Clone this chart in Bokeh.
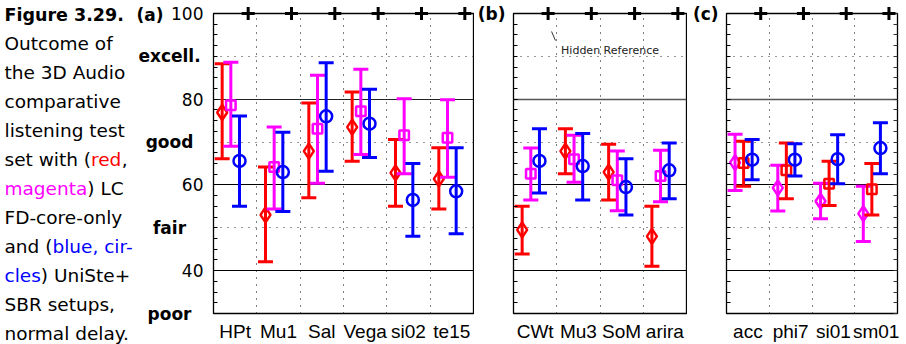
import numpy as np
from bokeh.plotting import figure
from bokeh.layouts import row
from bokeh.models import Range1d, LinearAxis, FixedTicker, Grid, ColumnDataSource
from bokeh.core.properties import value
from bokeh.embed import file_html
from bokeh.resources import INLINE

# ---------------- data ----------------
y_tick_vals = [100, 80, 60, 40]
y_tick_labels = ["100", "80", "60", "40"]
quality_vals = [90, 70, 50, 30]
quality_labels = ["excell.", "good", "fair", "poor"]

cats_a = ["HPt", "Mu1", "Sal", "Vega", "si02", "te15"]
a_red_mean = [76.9, 53.0, 67.9, 73.5, 62.8, 61.4]
a_red_low = [66.1, 42.1, 57.0, 65.5, 55.0, 54.4]
a_red_high = [88.3, 64.2, 79.1, 81.7, 70.6, 68.7]
a_mag_mean = [78.6, 64.2, 73.1, 77.2, 71.6, 71.0]
a_mag_low = [69.0, 54.4, 60.4, 67.1, 62.6, 61.8]
a_mag_high = [88.6, 73.5, 85.6, 87.0, 80.1, 79.9]
a_blue_mean = [65.6, 63.0, 76.0, 74.3, 56.5, 58.5]
a_blue_low = [55.0, 53.8, 63.2, 66.4, 48.0, 48.6]
a_blue_high = [76.1, 72.3, 88.5, 82.3, 65.0, 68.7]
a_hidden_ref = [100, 100, 100, 100, 100, 100]

cats_b = ["CWt", "Mu3", "SoM", "arira"]
b_red_mean = [49.5, 67.9, 63.0, 48.0]
b_red_low = [43.9, 62.6, 56.5, 41.0]
b_red_high = [55.0, 73.1, 69.5, 55.0]
b_mag_mean = [62.6, 66.0, 61.1, 62.1]
b_mag_low = [56.5, 60.6, 54.0, 56.1]
b_mag_high = [68.6, 71.6, 67.9, 68.1]
b_blue_mean = [65.6, 64.4, 59.5, 63.4]
b_blue_low = [58.1, 56.5, 53.0, 56.8]
b_blue_high = [73.1, 72.0, 66.1, 69.8]
b_hidden_ref = [100, 100, 100, 100]

cats_c = ["acc", "phi7", "si01", "sm01"]
c_mag_mean = [65.2, 59.3, 56.2, 53.3]
c_mag_low = [58.7, 53.9, 52.1, 46.8]
c_mag_high = [71.8, 64.6, 60.4, 59.7]
c_red_mean = [65.1, 63.4, 60.3, 59.0]
c_red_low = [59.7, 56.8, 55.2, 53.0]
c_red_high = [70.2, 69.8, 65.5, 65.0]
c_blue_mean = [65.9, 65.9, 66.0, 68.6]
c_blue_low = [61.2, 62.1, 60.3, 62.6]
c_blue_high = [70.6, 69.6, 71.7, 74.5]
c_hidden_ref = [100, 100, 100, 100]

hidden_ref_note = "Hidden Reference"

# ---------------- styles / layout ----------------
FONT = "DejaVu Sans"
XFONT = "Liberation Sans"
RED, MAG, BLUE = "#ff0000", "#ff00ff", "#0000ff"
H = 344
B_TOP, B_BOT = 13, 31
YMIN, YMAX = 30, 100
OFFS = [-0.3, -0.1, 0.1]
REF_OFF = 0.3
MINOR = [float(v) for v in np.arange(YMIN, YMAX + 0.1, 2.5)]


def make_panel(cats, series, hidden, width, left, right, tag=None, c80="black", w80=1,
               right_ticks=False):
    n = len(cats)
    p = figure(width=width, height=H, x_range=Range1d(-0.5, n - 0.5),
               y_range=Range1d(YMIN, YMAX), x_axis_type=None, y_axis_type=None,
               output_backend="svg", toolbar_location=None,
               min_border_left=left, min_border_right=right,
               min_border_top=B_TOP, min_border_bottom=B_BOT)
    p.outline_line_color = "black"
    p.outline_line_width = 1.3
    xa = LinearAxis(ticker=FixedTicker(ticks=list(range(n))),
                    major_label_overrides={i: c for i, c in enumerate(cats)},
                    axis_line_color=None, major_tick_in=0, major_tick_out=0,
                    minor_tick_in=0, minor_tick_out=0, major_label_standoff=7,
                    major_label_text_font=XFONT, major_label_text_font_size="19px",
                    major_label_text_color="black")
    p.add_layout(xa, "below")
    ya = LinearAxis(ticker=FixedTicker(ticks=[100] if tag else [], minor_ticks=MINOR),
                    axis_line_color=None, major_tick_in=0, major_tick_out=0,
                    minor_tick_in=4, minor_tick_out=0, minor_tick_line_color="black",
                    major_label_standoff=8 if tag else 0,
                    major_label_overrides={100: tag} if tag else {},
                    major_label_text_font=FONT, major_label_text_font_size="17px",
                    major_label_text_font_style="bold", major_label_text_color="black")
    p.add_layout(ya, "left")
    if right_ticks:
        yr = LinearAxis(ticker=FixedTicker(ticks=[], minor_ticks=MINOR),
                        axis_line_color=None, major_tick_in=0, major_tick_out=0,
                        minor_tick_in=4, minor_tick_out=0, minor_tick_line_color="#333333",
                        major_label_standoff=0)
        p.add_layout(yr, "right")
    p.add_layout(Grid(dimension=0, ticker=FixedTicker(ticks=[i + 0.5 for i in range(n - 1)]),
                      grid_line_color="black", grid_line_dash="1 6", grid_line_width=1))
    p.add_layout(Grid(dimension=1, ticker=FixedTicker(ticks=[40, 60], minor_ticks=[50, 70, 90]),
                      grid_line_color="black", grid_line_width=1,
                      minor_grid_line_color="#333333", minor_grid_line_dash="1 6"))
    p.add_layout(Grid(dimension=1, ticker=FixedTicker(ticks=[80]),
                      grid_line_color=c80, grid_line_width=w80))
    for (lo, mid, hi, color, marker, size), off in zip(series, OFFS):
        xs = [i + off for i in range(n)]
        src = ColumnDataSource(dict(x=xs, lo=lo, mid=mid, hi=hi))
        p.segment("x", "lo", "x", "hi", source=src, line_color=color, line_width=3)
        p.scatter("x", "lo", source=src, marker="dash", size=15, line_color=color, line_width=3)
        p.scatter("x", "hi", source=src, marker="dash", size=15, line_color=color, line_width=3)
        p.scatter("x", "mid", source=src, marker=marker, size=size, line_color=color,
                  line_width=2.5, fill_color=None)
    p.scatter([i + REF_OFF for i in range(n)], hidden, marker="cross", size=13,
              line_color="black", line_width=3, level="overlay")
    return p


CAP_W = 211
pa = make_panel(cats_a, [
    (a_red_low, a_red_mean, a_red_high, RED, "diamond", 15),
    (a_mag_low, a_mag_mean, a_mag_high, MAG, "square", 9.5),
    (a_blue_low, a_blue_mean, a_blue_high, BLUE, "circle", 12),
], a_hidden_ref, 263, 2, 1, c80="#222222", w80=1.2)

pb = make_panel(cats_b, [
    (b_red_low, b_red_mean, b_red_high, RED, "diamond", 15),
    (b_mag_low, b_mag_mean, b_mag_high, MAG, "square", 9.5),
    (b_blue_low, b_blue_mean, b_blue_high, BLUE, "circle", 12),
], b_hidden_ref, 213, 39, 1, tag="(b)", c80="#555555", w80=1.5)
# note pointing at the hidden reference
pb.segment([0.38], [95.8], [0.47], [93.7], line_color="#333333", line_width=1)
pb.text([0.6], [91.4], text=[hidden_ref_note], text_font=value(FONT), text_font_size="11px",
        text_color="#222222", text_baseline="middle", text_align="left")

pc = make_panel(cats_c, [
    (c_mag_low, c_mag_mean, c_mag_high, MAG, "diamond", 15),
    (c_red_low, c_red_mean, c_red_high, RED, "square", 9.5),
    (c_blue_low, c_blue_mean, c_blue_high, BLUE, "circle", 12),
], c_hidden_ref, 212, 39, 2, tag="(c)", c80="#555555", w80=1.5, right_ticks=True)

# ---------------- caption + value labels figure ----------------
k = (YMAX - YMIN) / (H - B_TOP - B_BOT)   # data units per pixel
cap = figure(width=CAP_W, height=H, x_range=Range1d(0, CAP_W), y_range=Range1d(YMIN, YMAX),
             x_axis_type=None, y_axis_type=None, output_backend="svg", toolbar_location=None,
             min_border_left=0, min_border_right=0, min_border_top=B_TOP,
             min_border_bottom=B_BOT)
cap.outline_line_color = None


def y_at(py):
    """data value at page pixel row py (for caption line placement)"""
    return YMAX - (py - B_TOP) * k


# numeric tick labels of panel (a) and the quality scale
cap.text([203] * len(y_tick_vals), y_tick_vals, text=y_tick_labels, text_font=value(FONT),
         text_font_size="17px", text_align="right", text_baseline="middle", text_color="black",
         level="overlay")
cap.text([169] * len(quality_vals), quality_vals, text=quality_labels, text_font=value(FONT),
         text_font_size="17px", text_font_style=value("bold"), text_align="center",
         text_baseline="middle", text_color="black", level="overlay")

# DejaVu Sans advance widths (em) to place coloured words side by side
W = {" ": .318, "(": .390, ")": .390, ",": .318, "-": .361, ".": .318, "+": .838,
     "a": .613, "b": .635, "c": .550, "d": .635, "e": .615, "f": .352, "g": .635,
     "h": .634, "i": .278, "l": .278, "m": .974, "n": .634, "o": .612, "p": .635,
     "r": .411, "s": .521, "t": .392, "u": .634, "w": .818, "y": .592, "L": .557, "C": .698}
CAP_FS = 18.5


def tw(s):
    return sum(W.get(ch, 0.62) for ch in s) * CAP_FS


caption = [
    [("Figure 3.29.", "black", True)],
    [("Outcome of", "black", False)],
    [("the 3D Audio", "black", False)],
    [("comparative", "black", False)],
    [("listening test", "black", False)],
    [("set with (", "black", False), ("red", RED, False), (",", "black", False)],
    [("magenta", MAG, False), (") LC", "black", False)],
    [("FD-core-only", "black", False)],
    [("and (", "black", False), ("blue, cir-", BLUE, False)],
    [("cles", BLUE, False), (") UniSte+", "black", False)],
    [("SBR setups,", "black", False)],
    [("normal delay.", "black", False)],
]
LINE0, LINE_STEP, CAP_X = 14, 29, 4
reg = dict(x=[], y=[], text=[], color=[])
bold = dict(x=[], y=[], text=[], color=[])
for i, segs in enumerate(caption):
    yv = y_at(LINE0 + i * LINE_STEP)
    x = CAP_X
    for txt, col, b in segs:
        d = bold if b else reg
        d["x"].append(x); d["y"].append(yv); d["text"].append(txt); d["color"].append(col)
        x += tw(txt)

cap.text("x", "y", text="text", text_color="color", source=ColumnDataSource(reg),
         text_font=value(FONT), text_font_size=f"{CAP_FS}px", text_baseline="middle",
         text_align="left", level="overlay")
cap.text("x", "y", text="text", text_color="color", source=ColumnDataSource(bold),
         text_font=value(FONT), text_font_size="17.5px", text_font_style=value("bold"),
         text_baseline="middle", text_align="left", level="overlay")
# panel tag (a) on the first caption line
cap.text([136], [y_at(LINE0)], text=["(a)"], text_font=value(FONT), text_font_size="17px",
         text_font_style=value("bold"), text_baseline="middle", text_align="left",
         text_color="black", level="overlay")

layout = row(cap, pa, pb, pc)
open("out.html", "w").write(file_html(layout, INLINE))
